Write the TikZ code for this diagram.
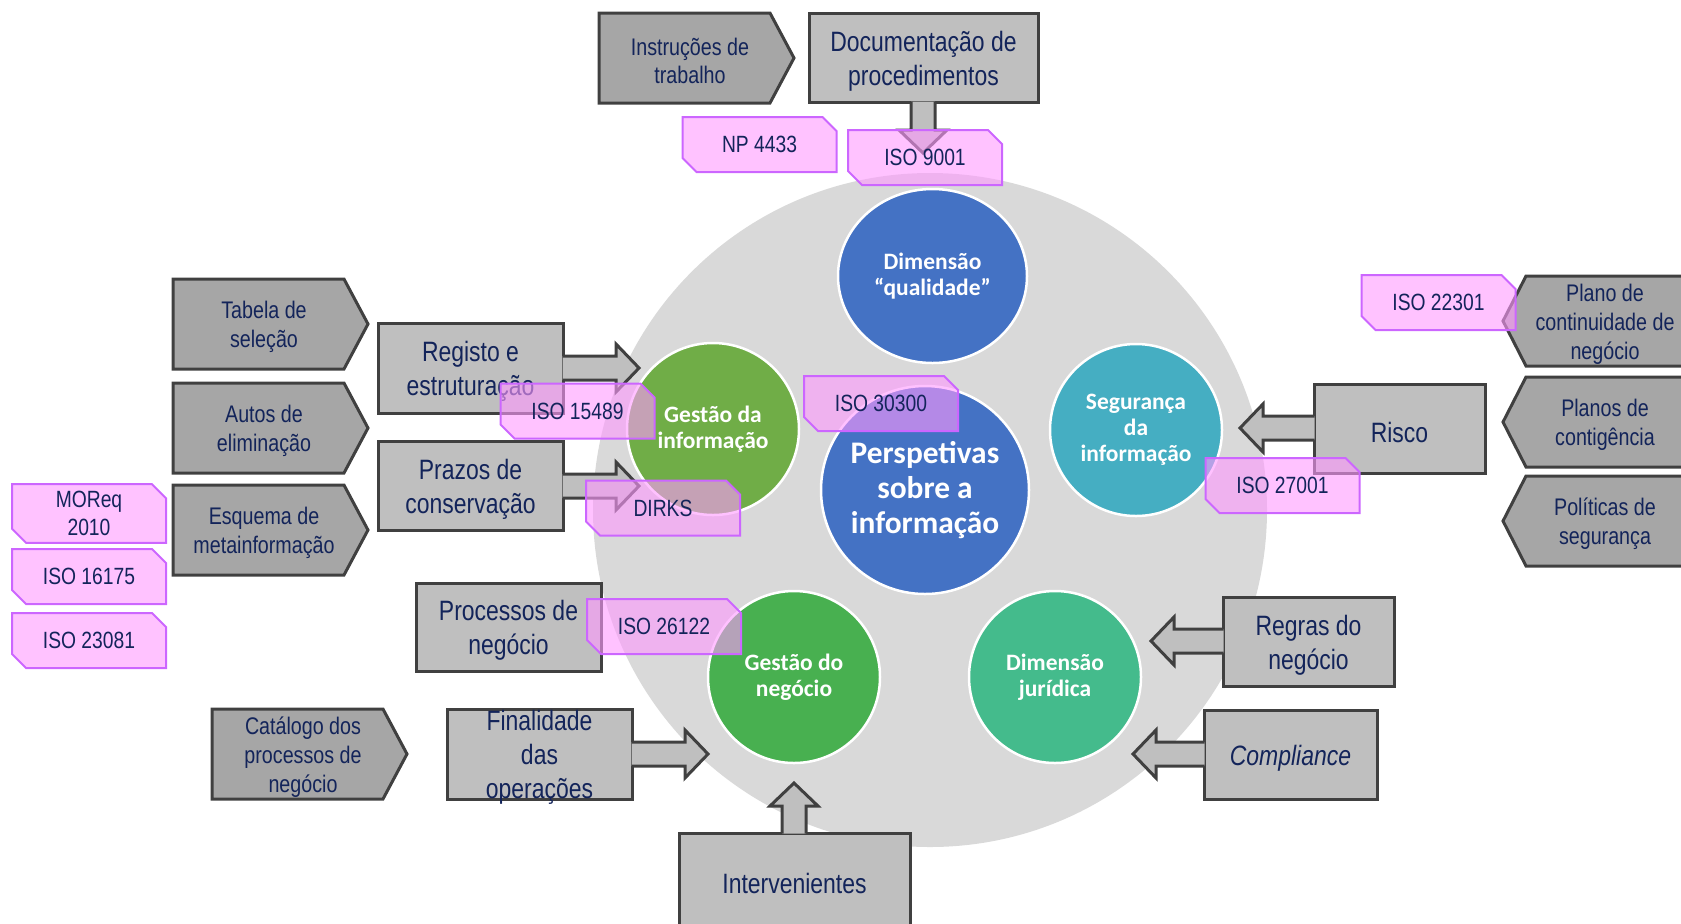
\documentclass[tikz,border=0pt]{standalone}
\usepackage{fontspec}
\setmainfont{Liberation Sans}[FakeStretch=0.82]
\newfontfamily\circfont{Carlito}
\usepackage{tikz}
\usetikzlibrary{calc, shapes.geometric, shapes.misc}

\definecolor{bggrey}{HTML}{D9D9D9}
\definecolor{boxgrey}{HTML}{BFBFBF}
\definecolor{chevgrey}{HTML}{A6A6A6}
\definecolor{edgegrey}{HTML}{404040}
\definecolor{navy}{HTML}{13245A}
\definecolor{tagfill}{HTML}{FF99FF}
\definecolor{tagedge}{HTML}{CC66FF}
\definecolor{qualblue}{HTML}{4472C4}
\definecolor{infgreen}{HTML}{70AD47}
\definecolor{segteal}{HTML}{45AEC2}
\definecolor{neggreen}{HTML}{48B050}
\definecolor{jurgreen}{HTML}{44BB8C}

% block arrow from a foot point on a box edge to a tip
\newcommand{\blockarrow}[2]{%
  \coordinate (ft) at ($(#1)!-1pt!(#2)$);
  \coordinate (hb) at ($(#2)!11.5pt!(#1)$);
  \draw[arrowbody] ($(ft)!6pt!90:(#2)$) -- ($(hb)!6pt!90:(#2)$) -- ($(hb)!12pt!90:(#2)$) -- (#2)
    -- ($(hb)!12pt!-90:(#2)$) -- ($(hb)!6pt!-90:(#2)$) -- ($(ft)!6pt!-90:(#2)$);
}

\begin{document}
\begin{tikzpicture}[x=0.5pt, y=-0.5pt,
    chev/.style={fill=chevgrey, draw=edgegrey, line width=1.5pt},
    chevtext/.style={text=navy, align=center, font=\fontsize{12}{14.4}\selectfont},
    boxtext/.style={text=navy, align=center, font=\fontsize{14}{17}\selectfont},
    gbox/.style={fill=boxgrey, draw=edgegrey, line width=1.5pt, inner sep=0pt},
    arrowbody/.style={fill=boxgrey, draw=edgegrey, line width=1.5pt},
    normtag/.style={chamfered rectangle, chamfered rectangle corners={north east, south west},
      chamfered rectangle xsep=3.5pt, chamfered rectangle ysep=3.5pt,
      fill=tagfill, fill opacity=0.6, text opacity=1, draw=tagedge, line width=1pt,
      text=navy, align=center, font=\fontsize{11.75}{14}\selectfont, inner sep=0pt,
      minimum width=77pt, minimum height=27.5pt},
    dimcircle/.style={circle, draw=white, line width=1.25pt, inner sep=0pt, minimum size=86pt,
      text=white, align=center, font=\circfont\bfseries\fontsize{11.75}{13}\selectfont}]
  \useasboundingbox (0,0) rectangle (1681,923);

  % background disc
  \node[circle, fill=bggrey, inner sep=0pt, minimum size=337pt] (disc) at (930,510) {};

  % chevrons
  \foreach \x/\y/\name/\txt in {173/279/tabela/{Tabela de\\seleção},
      173/383/autos/{Autos de\\eliminação}, 173/485/esquema/{Esquema de\\metainformação},
      212/709/catalogo/{Catálogo dos\\processos de\\negócio}, 599/13/instrucoes/{Instruções de\\trabalho}} {
    \draw[chev] (\x,\y) -- ++(171,0) -- ++(24,45) -- ++(-24,45) -- ++(-171,0) -- cycle;
    \node[chevtext] (\name) at ({\x+91},{\y+48}) {\txt};
  }
  \foreach \y/\name/\txt in {276/plano/{Plano de\\continuidade de\\negócio},
      377/contig/{Planos de\\contigência}, 476/politicas/{Políticas de\\segurança}} {
    \draw[chev] (1700,\y) -- (1526,\y) -- (1503,{\y+45}) -- (1526,{\y+90}) -- (1700,{\y+90}) -- cycle;
    \node[chevtext] (\name) at (1605,{\y+48}) {\txt};
  }

  % boxes
  \foreach \name/\x/\y/\w/\h/\txt in {
      docu/923.5/57.5/229/89/{Documentação de\\procedimentos},
      registo/470.5/368/185/90/{Registo e\\estruturação},
      prazos/470.5/485.5/185/89/{Prazos de\\conservação},
      processos/508.5/627/185/88/{Processos de\\negócio},
      finalidade/539.5/754/185/90/{Finalidade\\das\\operações},
      interv/794.5/880/231/94/{Intervenientes},
      risco/1399.5/428.5/171/89/{Risco},
      regras/1308.5/641.5/171/89/{Regras do\\negócio},
      compliance/1290.5/754.5/173/89/{\textit{Compliance}}} {
    \node[gbox, minimum width={\w*0.5pt}, minimum height={\h*0.5pt}] (\name) at (\x,\y) {};
    \node[boxtext] (\name\space text) at (\x,{\y+3.5}) {\txt};
  }

  % block arrows
  \coordinate (docu tip) at (923,153);
  \coordinate (registo tip) at (639,368);
  \coordinate (prazos tip) at (639,486);
  \coordinate (finalidade tip) at (708,754);
  \coordinate (interv tip) at (794,783);
  \coordinate (risco tip) at (1240,428);
  \coordinate (regras tip) at (1151,641);
  \coordinate (compliance tip) at (1133,754);
  \coordinate (docu foot) at (docu.south -| docu tip);
  \coordinate (interv foot) at (interv.north -| interv tip);
  \foreach \name/\side in {registo/east, prazos/east, finalidade/east, risco/west, regras/west, compliance/west}
    \coordinate (\name\space foot) at (\name.\side |- \name\space tip);
  \foreach \name in {docu, interv, registo, prazos, finalidade, risco, regras, compliance}
    \blockarrow{\name\space foot}{\name\space tip};

  % perspectives
  \node[dimcircle, ellipse, minimum width=94.5pt, minimum height=87pt, fill=qualblue] (qualidade) at (932.5,276) {Dimensão\\“qualidade”};
  \node[dimcircle, fill=infgreen] (gestinf) at (713,429) {Gestão da\\informação};
  \node[dimcircle, fill=qualblue, minimum size=104pt, font=\circfont\bfseries\fontsize{15.7}{17.5}\selectfont] (persp) at (925,490) {Perspetivas\\sobre a\\informação};
  \node[dimcircle, fill=segteal] (seguranca) at (1136,430) {Segurança\\da\\informação};
  \node[dimcircle, fill=neggreen] (gestneg) at (794,677) {Gestão do\\negócio};
  \node[dimcircle, fill=jurgreen] (juridica) at (1055,677) {Dimensão\\jurídica};

  % norms
  \foreach \x/\y/\name/\txt in {759.5/144.5/np4433/{NP 4433}, 925/157.5/iso9001/{ISO 9001},
      577.5/411/iso15489/{ISO 15489}, 663/508/dirks/{DIRKS}, 881/403.5/iso30300/{ISO 30300},
      1438.5/302.5/iso22301/{ISO 22301}, 1282.5/485.5/iso27001/{ISO 27001}, 664/626.5/iso26122/{ISO 26122},
      89/513.5/moreq/{MOReq\\2010}, 89/576.5/iso16175/{ISO 16175}, 89/640.5/iso23081/{ISO 23081}}
    \node[normtag] (\name) at (\x,\y) {\txt};
\end{tikzpicture}
\end{document}
